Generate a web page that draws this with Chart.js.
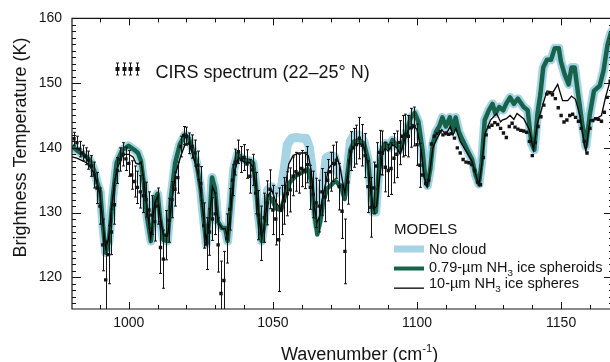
<!DOCTYPE html>
<html>
<head>
<meta charset="utf-8">
<script src="https://cdn.jsdelivr.net/npm/chart.js@4.4.1/dist/chart.umd.min.js"></script>
<style>
html, body { margin: 0; padding: 0; background: #fff; overflow: hidden; }
#wrap { width: 620px; height: 362px; }
</style>
</head>
<body>
<div id="wrap"><canvas id="myChart" width="620" height="362"></canvas></div>
<script>
// CIRS spectrum (22-25 N): wavenumber, brightness temperature, error
const cirsWn = [
  981, 982, 983, 984, 985, 986, 987, 988, 989, 990,
  991, 992, 993, 994, 995, 996, 997, 998, 999, 1000,
  1001, 1002, 1003, 1004, 1005, 1006, 1007, 1008, 1009, 1010,
  1011, 1012, 1013, 1014, 1015, 1016, 1017, 1018, 1019, 1020,
  1021, 1022, 1023, 1024, 1025, 1026, 1027, 1028, 1029, 1030,
  1031, 1032, 1033, 1034, 1035, 1036, 1037, 1038, 1039, 1040,
  1041, 1042, 1043, 1044, 1045, 1046, 1047, 1048, 1049, 1050,
  1051, 1052, 1053, 1054, 1055, 1056, 1057, 1058, 1059, 1060,
  1061, 1062, 1063, 1064, 1065, 1066, 1067, 1068, 1069, 1070,
  1071, 1072, 1073, 1074, 1075, 1076, 1077, 1078, 1079, 1080,
  1081, 1082, 1083, 1084, 1085, 1086, 1087, 1088, 1089, 1090,
  1091, 1092, 1093, 1094, 1095, 1096, 1097, 1098, 1099, 1100,
  1101, 1102, 1103, 1104, 1105, 1106, 1107, 1108, 1109, 1110,
  1111, 1112, 1113, 1114, 1115, 1116, 1117, 1118, 1119, 1120,
  1121, 1122, 1123, 1124, 1125, 1126, 1127, 1128, 1129, 1130,
  1131, 1132, 1133, 1134, 1135, 1136, 1137, 1138, 1139, 1140,
  1141, 1142, 1143, 1144, 1145, 1146, 1147, 1148, 1149, 1150,
  1151, 1152, 1153, 1154, 1155, 1156, 1157, 1158, 1159, 1160,
  1161, 1162, 1163, 1164, 1165, 1166, 1167
];
const cirsT = [
  141.4, 140.8, 139.8, 139.2, 138.7, 138.1, 137.2, 135.8, 133.8, 131.0,
  125.0, 119.6, 123.5, 127.0, 131.2, 136.5, 138.2, 139.0, 138.3, 137.6,
  135.8, 134.8, 133.9, 133.2, 132.6, 132.0, 130.4, 129.6, 128.6, 131.0,
  124.6, 122.8, 126.5, 128.8, 132.0, 133.6, 135.4, 140.2, 141.9, 141.8,
  140.7, 140.2, 139.2, 137.3, 134.5, 128.0, 125.2, 127.0, 129.0, 129.8,
  125.0, 117.5, 119.5, 126.0, 130.5, 135.0, 137.8, 139.4, 138.2, 138.5,
  137.5, 135.6, 136.6, 133.0, 129.6, 126.8, 129.2, 131.5, 133.6, 130.4,
  129.0, 125.8, 130.4, 131.8, 132.9, 133.5, 135.6, 136.3, 136.0, 136.8,
  136.5, 137.4, 133.9, 132.8, 131.5, 131.0, 133.2, 132.4, 135.0, 136.3,
  137.6, 138.1, 134.0, 130.2, 124.0, 134.7, 139.5, 140.0, 140.5, 141.5,
  140.4, 138.8, 134.0, 130.8, 133.8, 137.2, 139.3, 139.2, 137.0, 136.5,
  136.8, 138.4, 139.0, 140.8, 141.8, 142.0, 141.8, 143.1, 143.3, 140.5,
  137.3, 135.8, 134.5, 135.0, 140.6, 141.8, 142.2, 142.5, 142.0, 142.3,
  142.1, 142.2, 141.5, 140.0, 139.2, 138.2, 137.8, 137.7, 137.4, 136.5,
  134.7, 134.3, 138.5, 142.0, 143.2, 143.5, 143.9, 143.6, 143.0, 142.3,
  141.6, 143.3, 143.8, 143.2, 142.9, 142.7, 142.6, 142.4, 141.0, 138.8,
  140.8, 143.3, 144.8, 146.6, 148.3, 148.5, 148.2, 147.6, 146.2, 145.0,
  144.0, 144.3, 145.0, 145.2, 144.7, 144.1, 143.0, 141.0, 139.2, 143.0,
  144.2, 144.5, 144.4, 144.1, 145.5, 147.8, 150.3
];
// 1-sigma errors (only shown up to ~1101 cm-1)
const cirsErr = [
  1.0, 1.0, 1.2, 1.2, 1.3, 1.4, 1.6, 2.0, 2.4, 2.8,
  4.0, 6.0, 4.5, 3.5, 3.0, 2.0, 1.8, 1.8, 1.8, 2.0,
  2.2, 2.4, 2.5, 2.5, 2.6, 2.7, 2.8, 3.0, 3.0, 2.8,
  4.0, 4.5, 3.8, 3.4, 2.8, 2.6, 2.4, 1.6, 1.4, 1.4,
  1.6, 1.8, 2.0, 2.2, 2.6, 3.5, 4.0, 3.6, 3.3, 3.2,
  4.2, 5.0, 4.5, 3.8, 3.2, 2.4, 2.0, 1.8, 2.0, 2.0,
  2.2, 2.6, 2.4, 3.2, 3.8, 4.2, 3.8, 3.4, 3.0, 3.8,
  4.0, 8.0, 3.8, 3.6, 3.4, 3.4, 3.0, 3.0, 3.0, 2.8,
  2.8, 2.8, 3.4, 3.6, 3.8, 4.0, 3.6, 3.8, 3.2, 3.0,
  2.8, 2.8, 3.6, 4.2, 5.0, 3.4, 3.0, 3.0, 3.0, 3.2,
  3.2, 3.4, 4.0, 4.6, 4.0, 3.6, 3.4, 3.4, 3.8, 4.0,
  4.0, 3.8, 3.6, 3.4, 3.2, 3.2, 3.2, 3.0, 3.0, 3.2,
  3.4
];

// model: 0.79-um NH3 ice spheroids
const sphWn = [
  980.3, 982, 984, 986.4, 988, 989, 990.1, 991.1, 992, 993.1,
  994.5, 995.8, 997.8, 999.9, 1001.9, 1003.2, 1004.2, 1005.3, 1006.4, 1007.7,
  1009.1, 1010, 1010.9, 1012, 1013.4, 1014.7, 1016.1, 1017.7, 1019.5, 1020.8,
  1022.2, 1023.5, 1024.9, 1025.8, 1026.9, 1028, 1028.9, 1029.9, 1030.9, 1032.3,
  1033.4, 1034.3, 1035.3, 1036.4, 1037.7, 1039.7, 1041.8, 1043.1, 1044.2, 1045.1,
  1046.1, 1047.2, 1048.2, 1049.6, 1051.2, 1052.8, 1054.6, 1055.9, 1057.9, 1060,
  1062, 1063.4, 1064.5, 1065.4, 1066.4, 1067.4, 1068.8, 1070.1, 1071.5, 1072.8,
  1073.9, 1074.9, 1075.8, 1076.9, 1078.2, 1079.9, 1081.6, 1083, 1083.9, 1084.7,
  1085.7, 1086.6, 1087.7, 1089.1, 1090.4, 1091.5, 1092.8, 1094.2, 1095.8, 1097.8,
  1099.2, 1100.5, 1101.9, 1102.8, 1103.6, 1104.6, 1105.5, 1106.6, 1107.7, 1108.8,
  1110, 1111.4, 1112.4, 1113.4, 1114.5, 1115.8, 1117.4, 1119.1, 1120.4, 1121.5,
  1122.4, 1123.5, 1124.9, 1126.2, 1127.2, 1128.5, 1129.9, 1130.9, 1132.3, 1133.6,
  1135, 1137, 1138.4, 1139.7, 1140.7, 1141.8, 1142.8, 1143.8, 1145.1, 1146.5,
  1147.8, 1149.2, 1149.9, 1151.2, 1152.6, 1153.6, 1154.7, 1155.9, 1157.3, 1158.6,
  1160, 1161.4, 1163.4, 1164.7, 1166.1, 1167.2, 1168.5
];
const sphT = [
  140.3, 139.6, 139.0, 138.2, 136.5, 134.7, 133.2, 127.6, 123.8, 125.6,
  132.6, 137.7, 139.7, 140.3, 139.7, 139.2, 138.0, 134.2, 129.1, 125.6,
  132.1, 132.9, 129.1, 125.8, 125.6, 132.6, 137.7, 140.5, 142.0, 141.5,
  139.7, 137.7, 133.7, 129.6, 125.1, 129.1, 135.4, 133.7, 128.6, 127.6,
  127.6, 125.6, 130.6, 136.7, 139.0, 138.2, 138.0, 137.7, 133.7, 129.1,
  125.6, 128.6, 132.6, 132.1, 130.6, 130.4, 133.2, 134.7, 135.7, 136.2,
  136.7, 134.7, 129.6, 126.6, 128.6, 131.6, 133.7, 134.2, 134.9, 134.4,
  133.7, 132.1, 135.7, 139.7, 141.0, 141.2, 140.7, 138.2, 133.7, 130.1,
  130.1, 135.7, 139.7, 140.7, 140.0, 141.2, 140.5, 139.7, 141.7, 144.6,
  145.4, 144.0, 139.7, 135.7, 134.2, 136.7, 140.7, 142.5, 143.3, 144.7,
  143.3, 144.7, 142.8, 144.7, 142.5, 141.2, 139.7, 138.2, 135.7, 134.4,
  137.7, 144.3, 145.8, 146.8, 145.3, 146.3, 145.8, 146.8, 147.8, 146.8,
  147.6, 146.3, 145.8, 140.7, 139.7, 145.3, 148.3, 152.4, 153.6, 153.6,
  155.4, 155.4, 153.4, 151.4, 149.8, 152.4, 152.4, 148.3, 143.8, 140.2,
  145.3, 148.8, 149.6, 151.9, 155.9, 157.7, 158.5
];

// model: no cloud
const clearWn = [
  980.3, 982, 984, 986.4, 988, 989, 990.1, 991.1, 992, 993.1,
  994.5, 995.8, 997.8, 999.9, 1001.9, 1003.2, 1004.2, 1005.3, 1006.4, 1007.7,
  1009.1, 1010, 1010.9, 1012, 1013.4, 1014.7, 1016.1, 1017.7, 1019.5, 1020.8,
  1022.2, 1023.5, 1024.9, 1025.8, 1026.9, 1028, 1028.9, 1029.9, 1030.9, 1032.3,
  1033.4, 1034.3, 1035.3, 1036.4, 1037.7, 1039.7, 1041.8, 1043.1, 1044.2, 1045.1,
  1046.1, 1047.2, 1048.2, 1049.6, 1051.2, 1052.8, 1054, 1055, 1056.5, 1058,
  1060, 1061.5, 1062.6, 1063.4, 1064.5, 1065.4, 1066.4, 1067.4, 1068.5, 1070,
  1071.5, 1072.5, 1073.9, 1074.9, 1075.8, 1076.9, 1078.2, 1079.9, 1081.6, 1083,
  1083.9, 1084.7, 1085.7, 1086.6, 1087.7, 1089.1, 1090.4, 1091.5, 1092.8, 1094.2,
  1095.8, 1097.8, 1099.2, 1100.5, 1101.9, 1102.8, 1103.6, 1104.6, 1105.5, 1106.6,
  1107.7, 1108.8, 1110, 1111.4, 1112.4, 1113.4, 1114.5, 1115.8, 1117.4, 1119.1,
  1120.4, 1121.5, 1122.4, 1123.5, 1124.9, 1126.2, 1127.2, 1128.5, 1129.9, 1130.9,
  1132.3, 1133.6, 1135, 1137, 1138.4, 1139.7, 1140.7, 1141.8, 1142.8, 1143.8,
  1145.1, 1146.5, 1147.8, 1149.2, 1149.9, 1151.2, 1152.6, 1153.6, 1154.7, 1155.9,
  1157.3, 1158.6, 1160, 1161.4, 1163.4, 1164.7, 1166.1, 1167.2, 1168.5
];
const clearT = [
  140.3, 139.6, 139.0, 138.2, 136.5, 134.7, 133.2, 127.6, 123.8, 125.6,
  132.6, 137.7, 139.7, 140.3, 139.7, 139.2, 138.0, 134.2, 129.1, 125.6,
  132.1, 132.9, 129.1, 125.8, 125.6, 132.6, 137.7, 140.5, 142.0, 141.5,
  139.7, 137.7, 133.7, 129.6, 125.1, 129.1, 135.4, 133.7, 128.6, 127.6,
  127.6, 125.6, 130.6, 136.7, 139.0, 138.2, 138.0, 137.7, 133.7, 129.1,
  125.6, 129.5, 133.5, 134.0, 133.0, 133.5, 137.0, 140.5, 141.5, 141.6,
  141.5, 141.5, 140.2, 137.5, 131.0, 128.0, 130.0, 134.5, 138.5, 138.8,
  138.6, 136.5, 134.5, 133.0, 136.5, 141.0, 142.0, 142.0, 141.0, 138.2,
  133.7, 130.1, 130.1, 135.7, 139.7, 140.7, 140.0, 141.2, 140.5, 139.7,
  141.7, 144.6, 145.4, 144.0, 139.7, 135.7, 134.2, 136.7, 140.7, 142.5,
  143.3, 144.7, 143.3, 144.7, 142.8, 144.7, 142.5, 141.2, 139.7, 138.2,
  135.7, 134.4, 137.7, 144.3, 145.8, 146.8, 145.3, 146.3, 145.8, 146.8,
  147.8, 146.8, 147.6, 146.3, 145.8, 140.7, 139.7, 145.3, 148.3, 152.4,
  153.6, 153.6, 155.4, 155.4, 153.4, 151.4, 149.8, 152.4, 152.4, 148.3,
  143.8, 140.2, 145.3, 148.8, 149.6, 151.9, 155.9, 157.7, 158.5
];

// model: 10-um NH3 ice spheres
const bigWn = [
  980.3, 982, 984, 986, 988, 989, 990, 991, 992, 993,
  994, 995, 996, 998, 1000, 1001.5, 1002.5, 1003.5, 1004.3, 1005.2,
  1006.5, 1007.6, 1009, 1010, 1011, 1012, 1013.5, 1015, 1016.2, 1018,
  1019.6, 1021, 1022.2, 1024, 1025, 1026.9, 1028, 1029, 1030, 1031,
  1032.5, 1033.5, 1034.3, 1035.5, 1036.5, 1038, 1040, 1042, 1043.1, 1044.2,
  1045.1, 1046.1, 1047.2, 1048.2, 1049.6, 1051.2, 1052.8, 1054.2, 1055.5, 1057,
  1059, 1061, 1062.3, 1063.3, 1064.3, 1065.3, 1066.3, 1067.3, 1068.3, 1069.3,
  1070.5, 1071.5, 1072.3, 1073.3, 1074.3, 1075, 1076, 1077, 1078.5, 1080,
  1081.5, 1083, 1084, 1085, 1086, 1087, 1088, 1089, 1090, 1091.5,
  1093, 1094.2, 1095.5, 1097, 1098.6, 1100, 1101.5, 1102.5, 1103.5, 1104.5,
  1105.5, 1107, 1108.6, 1110, 1111.5, 1112.5, 1113.5, 1115, 1117, 1119,
  1120.5, 1121.5, 1122.5, 1123.5, 1125.5, 1127.6, 1129, 1129.6, 1131, 1132.3,
  1133.6, 1134.7, 1137, 1139, 1140.4, 1141.8, 1143.4, 1145.1, 1147.2, 1148.8,
  1150.5, 1152.3, 1153.6, 1155, 1156.6, 1158, 1158.6, 1160, 1162, 1164,
  1165.4, 1166.9, 1168.5
];
const bigT = [
  138.6, 138.4, 138.0, 137.5, 136.0, 134.5, 132.8, 128.5, 124.5, 126.0,
  130.5, 134.5, 136.8, 139.0, 139.0, 138.6, 137.6, 137.5, 137.8, 135.0,
  130.0, 126.0, 131.5, 132.5, 129.0, 126.5, 126.5, 132.0, 136.0, 138.7,
  140.6, 140.6, 139.0, 136.0, 133.0, 125.5, 129.0, 134.0, 133.0, 128.5,
  127.5, 127.5, 126.0, 131.0, 136.0, 138.5, 137.8, 137.7, 137.0, 133.5,
  129.5, 126.0, 128.5, 132.5, 133.5, 131.5, 130.5, 133.5, 137.5, 138.8,
  139.2, 139.2, 138.8, 136.5, 131.0, 128.5, 129.5, 132.5, 134.5, 136.8,
  137.5, 137.3, 138.5, 137.0, 134.5, 133.0, 136.0, 139.5, 140.5, 140.7,
  140.2, 137.5, 133.0, 130.5, 131.0, 135.5, 139.0, 140.0, 139.5, 140.5,
  140.0, 139.0, 141.0, 142.8, 143.6, 142.8, 139.5, 135.5, 134.0, 136.5,
  140.0, 141.5, 142.8, 142.0, 143.3, 142.0, 143.0, 141.0, 139.5, 138.0,
  135.7, 134.3, 137.5, 142.0, 144.3, 145.3, 144.0, 144.3, 144.5, 145.0,
  144.4, 145.3, 144.5, 142.8, 139.7, 143.8, 146.3, 148.8, 148.6, 149.8,
  147.3, 147.3, 148.0, 147.5, 144.8, 140.7, 139.5, 144.3, 144.5, 145.0,
  147.8, 150.2, 152.5
];

const xTickVals = [1000, 1050, 1100, 1150];
const yTickVals = [120, 130, 140, 150, 160];

const FONT = "'Liberation Sans', Arial, Helvetica, sans-serif";
const INK = '#141414';
const BLUE = '#a6d4e4';
const GREEN = '#17624a';

function pts(xs, ys) {
  return xs.map((v, i) => ({ x: v, y: ys[i] }));
}

// draw text made of pieces, some as sub/superscript
function richText(ctx, x, y, parts, size) {
  for (const p of parts) {
    let s = size, dy = 0;
    if (p.sub) { s = size * 0.68; dy = size * 0.28; }
    if (p.sup) { s = size * 0.62; dy = -size * 0.4; }
    ctx.font = s + 'px ' + FONT;
    ctx.fillText(p.t, x, y + dy);
    x += ctx.measureText(p.t).width;
  }
}

const decor = {
  id: 'decor',
  afterDatasetsDraw(chart) {
    const { ctx, chartArea: a, scales: { x, y } } = chart;
    ctx.save();
    ctx.beginPath();
    ctx.rect(a.left, a.top, a.right - a.left, a.bottom - a.top);
    ctx.clip();
    ctx.strokeStyle = INK;
    ctx.lineWidth = 1;
    for (let i = 0; i < cirsErr.length; i++) {
      const px = Math.round(x.getPixelForValue(cirsWn[i])) + 0.5;
      const y1 = y.getPixelForValue(cirsT[i] + cirsErr[i]);
      const y2 = y.getPixelForValue(cirsT[i] - cirsErr[i]);
      ctx.beginPath();
      ctx.moveTo(px, y1); ctx.lineTo(px, y2);
      ctx.moveTo(px - 1.5, y1); ctx.lineTo(px + 1.5, y1);
      ctx.moveTo(px - 1.5, y2); ctx.lineTo(px + 1.5, y2);
      ctx.stroke();
    }
    ctx.restore();
  },
  afterDraw(chart) {
    const { ctx, chartArea: a, scales: { x, y } } = chart;
    ctx.save();
    ctx.strokeStyle = INK;
    ctx.fillStyle = INK;
    ctx.lineWidth = 1.2;
    // frame
    ctx.beginPath();
    ctx.rect(a.left, a.top, a.right - a.left, a.bottom - a.top);
    ctx.stroke();
    // inward ticks
    ctx.lineWidth = 1;
    ctx.beginPath();
    for (let v = 990; v <= 1160; v += 10) {
      const px = Math.round(x.getPixelForValue(v)) + 0.5;
      const len = v % 50 === 0 ? 7 : 4;
      ctx.moveTo(px, a.bottom); ctx.lineTo(px, a.bottom - len);
      ctx.moveTo(px, a.top); ctx.lineTo(px, a.top + len);
    }
    for (let v = 116; v <= 159; v++) {
      const py = Math.round(y.getPixelForValue(v)) + 0.5;
      const len = v % 10 === 0 ? 9 : 4;
      ctx.moveTo(a.left, py); ctx.lineTo(a.left + len, py);
      ctx.moveTo(a.right, py); ctx.lineTo(a.right - len, py);
    }
    ctx.stroke();

    // axis titles
    ctx.textBaseline = 'alphabetic';
    ctx.textAlign = 'left';
    richText(ctx, 281, 359.5, [{ t: 'Wavenumber (cm' }, { t: '-1', sup: true }, { t: ')' }], 18);
    ctx.save();
    ctx.translate(26, 147.5);
    ctx.rotate(-Math.PI / 2);
    ctx.textAlign = 'center';
    ctx.font = '18px ' + FONT;
    ctx.fillText('Brightness Temperature (K)', 0, 0);
    ctx.restore();

    // CIRS legend
    ctx.lineWidth = 1;
    for (const lx of [117, 123.5, 130, 137]) {
      const cx = Math.round(lx) + 0.5;
      ctx.beginPath();
      ctx.moveTo(cx, 63); ctx.lineTo(cx, 75);
      ctx.moveTo(cx - 1.5, 63); ctx.lineTo(cx + 1.5, 63);
      ctx.moveTo(cx - 1.5, 75); ctx.lineTo(cx + 1.5, 75);
      ctx.stroke();
      ctx.fillRect(cx - 2, 67, 4, 4);
    }
    ctx.textAlign = 'left';
    ctx.font = '18px ' + FONT;
    ctx.fillText('CIRS spectrum (22\u201325\u00b0 N)', 155.5, 77.5);

    // models legend
    ctx.font = '15px ' + FONT;
    ctx.fillText('MODELS', 394, 234);
    ctx.fillStyle = BLUE;
    ctx.fillRect(394, 245.5, 30, 7);
    ctx.fillStyle = GREEN;
    ctx.fillRect(394, 266.5, 30, 4);
    ctx.fillStyle = '#000';
    ctx.fillRect(394, 287.5, 30, 1.3);
    ctx.fillStyle = INK;
    richText(ctx, 429, 254, [{ t: 'No cloud' }], 14.5);
    richText(ctx, 429, 271.5, [{ t: '0.79-\u00b5m NH' }, { t: '3', sub: true }, { t: ' ice spheroids' }], 14.5);
    richText(ctx, 429, 287.5, [{ t: '10-\u00b5m NH' }, { t: '3', sub: true }, { t: ' ice spheres' }], 14.5);
    ctx.restore();
  }
};

const ctx = document.getElementById('myChart').getContext('2d');
new Chart(ctx, {
  type: 'line',
  data: {
    datasets: [
      {
        label: 'CIRS spectrum (22\u201325\u00b0 N)',
        data: pts(cirsWn, cirsT),
        showLine: false,
        pointStyle: 'rect',
        pointRadius: 2.4,
        pointBorderWidth: 0,
        pointBackgroundColor: INK,
        order: 0
      },
      {
        label: '10-\u00b5m NH3 ice spheres',
        data: pts(bigWn, bigT),
        borderColor: '#000',
        borderWidth: 1.3,
        pointRadius: 0,
        tension: 0,
        order: 1
      },
      {
        label: '0.79-\u00b5m NH3 ice spheroids',
        data: pts(sphWn, sphT),
        borderColor: GREEN,
        borderWidth: 4.5,
        borderJoinStyle: 'round',
        pointRadius: 0,
        tension: 0,
        order: 2
      },
      {
        label: 'No cloud',
        data: pts(clearWn, clearT),
        borderColor: BLUE,
        borderWidth: 9,
        borderJoinStyle: 'round',
        pointRadius: 0,
        tension: 0,
        order: 3
      }
    ]
  },
  options: {
    responsive: false,
    animation: false,
    layout: { padding: { top: 13, right: 7, left: 0, bottom: 0 } },
    plugins: { legend: { display: false }, tooltip: { enabled: false } },
    scales: {
      x: {
        type: 'linear',
        min: 980.3,
        max: 1168,
        grid: { display: false, drawTicks: false },
        border: { display: false },
        ticks: {
          font: { size: 14, family: FONT }, color: INK, padding: 6, maxRotation: 0,
          callback: v => String(v)
        },
        afterBuildTicks: s => { s.ticks = xTickVals.map(v => ({ value: v })); },
        afterFit: s => { s.height = 53; }
      },
      y: {
        type: 'linear',
        min: 115.1,
        max: 160,
        grid: { display: false, drawTicks: false },
        border: { display: false },
        ticks: { font: { size: 14, family: FONT }, color: INK, padding: 10, callback: v => String(v) },
        afterBuildTicks: s => { s.ticks = yTickVals.map(v => ({ value: v })); },
        afterFit: s => { s.width = 72; }
      }
    }
  },
  plugins: [decor]
});
</script>
</body>
</html>
